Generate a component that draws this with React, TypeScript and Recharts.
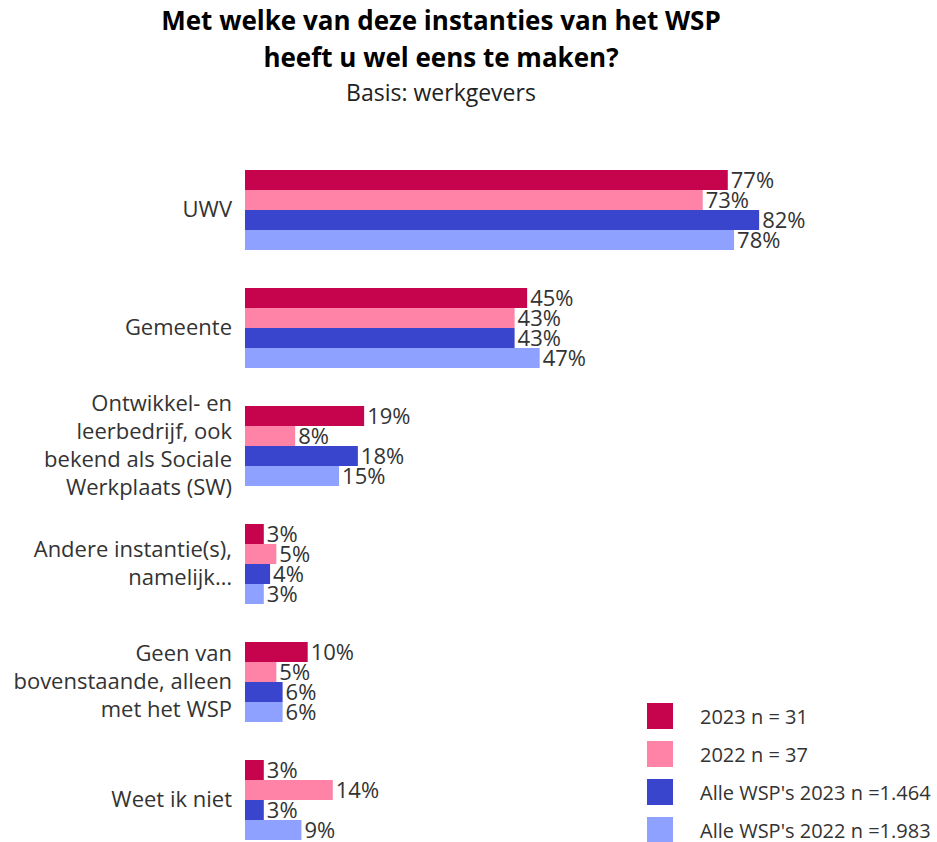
import React from 'react';
import { BarChart, Bar, XAxis, YAxis, LabelList } from 'recharts';

// categories (top to bottom) and series values in %
const categories = [
  'UWV',
  'Gemeente',
  'Ontwikkel- en leerbedrijf, ook bekend als Sociale Werkplaats (SW)',
  'Andere instantie(s), namelijk…',
  'Geen van bovenstaande, alleen met het WSP',
  'Weet ik niet',
];
const values2023 = [77, 45, 19, 3, 10, 3];
const values2022 = [73, 43, 8, 5, 5, 14];
const allWsp2023 = [82, 43, 18, 4, 6, 3];
const allWsp2022 = [78, 47, 15, 3, 6, 9];

const seriesNames = ['2023 n = 31', '2022 n = 37', "Alle WSP's 2023 n =1.464", "Alle WSP's 2022 n =1.983"];
const seriesColors = ['#C6044E', '#FF82A7', '#3A45CE', '#8FA1FF'];

const chartData = categories.map((name, i) => ({
  name,
  s2023: values2023[i],
  s2022: values2022[i],
  a2023: allWsp2023[i],
  a2022: allWsp2022[i],
}));
const keys = ['s2023', 's2022', 'a2023', 'a2022'];

const FONT = '"Open Sans", sans-serif';

// greedy word wrap, max ~20 chars per line
const wrap = (text: string, max = 20) => {
  const lines: string[] = [];
  let cur = '';
  text.split(' ').forEach(w => {
    if (cur && (cur + ' ' + w).length > max) {
      lines.push(cur);
      cur = w;
    } else {
      cur = cur ? cur + ' ' + w : w;
    }
  });
  if (cur) lines.push(cur);
  return lines;
};

const CategoryTick = (props: any) => {
  const { x, y, payload } = props;
  const lines = wrap(payload.value);
  const lh = 28;
  const start = y - ((lines.length - 1) * lh) / 2;
  return (
    <text x={x} y={start} textAnchor="end" fill="#333" fontSize={22} fontFamily={FONT}>
      {lines.map((l, i) => (
        <tspan key={i} x={x} y={start + i * lh} dy="0.35em">
          {l}
        </tspan>
      ))}
    </text>
  );
};

const App: React.FC = () => {
  return (
    <div style={{ position: 'absolute', left: 0, top: 0, width: 937, height: 842, background: '#fff', overflow: 'hidden' }}>
      <div
        style={{
          position: 'absolute',
          left: 0,
          top: 2,
          width: 882,
          textAlign: 'center',
          fontFamily: FONT,
          color: '#000',
        }}
      >
        <div style={{ fontSize: 26, fontWeight: 700, lineHeight: '37px' }}>Met welke van deze instanties van het WSP</div>
        <div style={{ fontSize: 26, fontWeight: 700, lineHeight: '37px' }}>heeft u wel eens te maken?</div>
        <div style={{ fontSize: 23, lineHeight: '32px', color: '#222' }}>Basis: werkgevers</div>
      </div>
      <BarChart
        width={937}
        height={860}
        data={chartData}
        layout="vertical"
        margin={{ top: 150, right: 65, bottom: 2, left: 0 }}
        barCategoryGap={20}
        barGap={0}
      >
        <XAxis type="number" domain={[0, 100]} hide />
        <YAxis
          type="category"
          dataKey="name"
          width={245}
          axisLine={false}
          tickLine={false}
          tickSize={0}
          tickMargin={13}
          interval={0}
          tick={<CategoryTick />}
        />
        {keys.map((k, i) => (
          <Bar key={k} dataKey={k} name={seriesNames[i]} fill={seriesColors[i]} isAnimationActive={false}>
            <LabelList
              dataKey={k}
              position="right"
              offset={3}
              formatter={(v: any) => `${v}%`}
              style={{ fill: '#333', fontSize: 22, fontFamily: FONT }}
            />
          </Bar>
        ))}
      </BarChart>
      <div style={{ position: 'absolute', left: 647, top: 697, width: 290, fontFamily: FONT }}>
        {seriesNames.map((n, i) => (
          <div key={n} style={{ display: 'flex', alignItems: 'center', height: 38 }}>
            <div style={{ width: 26, height: 26, background: seriesColors[i], marginRight: 27 }} />
            <span style={{ fontSize: 20, color: '#333', whiteSpace: 'nowrap' }}>{n}</span>
          </div>
        ))}
      </div>
    </div>
  );
};

export default App;
